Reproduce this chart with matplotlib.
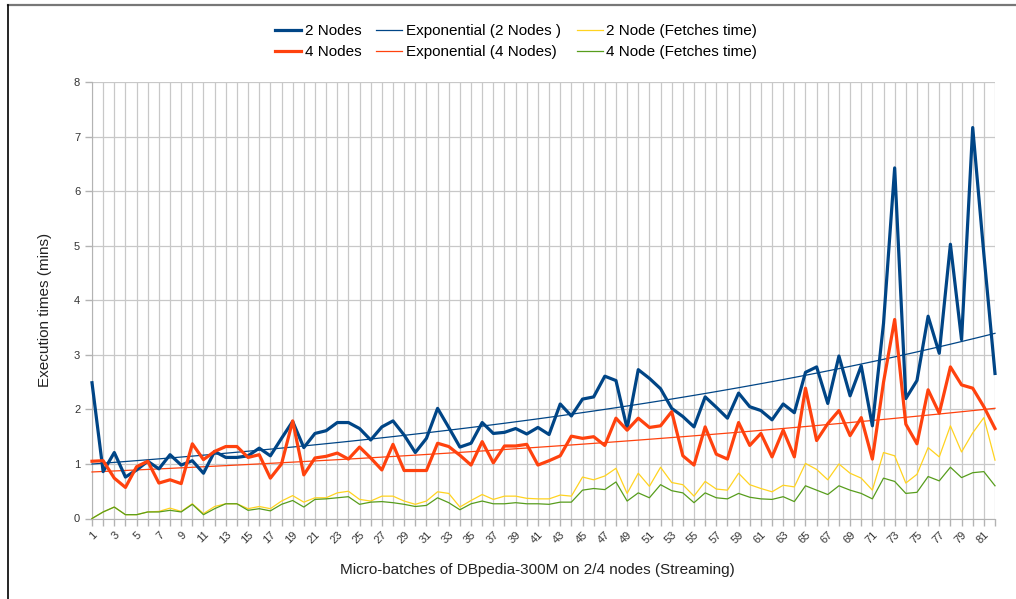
import matplotlib
matplotlib.use("Agg")
import matplotlib.pyplot as plt
from matplotlib.lines import Line2D
import numpy as np

plt.rcParams['font.family'] = ['Liberation Sans', 'DejaVu Sans']

batches = list(range(1, 83))

two_nodes = [2.49, 0.86, 1.21, 0.76, 0.89, 1.05, 0.91, 1.17, 0.98, 1.06,
             0.83, 1.23, 1.12, 1.12, 1.15, 1.29, 1.15, 1.47, 1.78, 1.30,
             1.56, 1.61, 1.76, 1.76, 1.65, 1.44, 1.68, 1.79, 1.53, 1.21,
             1.47, 2.02, 1.67, 1.31, 1.38, 1.76, 1.56, 1.58, 1.65, 1.55,
             1.67, 1.54, 2.10, 1.88, 2.19, 2.23, 2.61, 2.53, 1.65, 2.73,
             2.57, 2.38, 2.02, 1.87, 1.68, 2.23, 2.04, 1.84, 2.30, 2.05,
             1.98, 1.81, 2.10, 1.94, 2.68, 2.78, 2.11, 2.98, 2.25, 2.80,
             1.70, 3.58, 6.43, 2.20, 2.53, 3.71, 3.03, 5.03, 3.28, 7.17,
             4.85, 2.66]

four_nodes = [1.05, 1.06, 0.74, 0.57, 0.95, 1.05, 0.65, 0.71, 0.64, 1.37,
              1.08, 1.23, 1.32, 1.32, 1.12, 1.17, 0.74, 1.00, 1.79, 0.80,
              1.11, 1.14, 1.20, 1.09, 1.31, 1.11, 0.89, 1.36, 0.88, 0.88,
              0.88, 1.38, 1.32, 1.16, 0.98, 1.41, 1.02, 1.33, 1.33, 1.36,
              0.98, 1.06, 1.15, 1.51, 1.47, 1.50, 1.34, 1.84, 1.62, 1.84,
              1.67, 1.70, 1.96, 1.15, 0.98, 1.68, 1.18, 1.09, 1.76, 1.34,
              1.56, 1.13, 1.62, 1.13, 2.39, 1.43, 1.74, 1.98, 1.52, 1.85,
              1.09, 2.50, 3.65, 1.73, 1.37, 2.36, 1.93, 2.78, 2.45, 2.39,
              2.05, 1.65]

fetch_2 = [0.00, 0.12, 0.21, 0.07, 0.07, 0.12, 0.13, 0.19, 0.13, 0.27,
           0.09, 0.22, 0.27, 0.27, 0.18, 0.22, 0.18, 0.32, 0.42, 0.30,
           0.38, 0.38, 0.47, 0.50, 0.35, 0.32, 0.41, 0.41, 0.32, 0.26,
           0.32, 0.49, 0.46, 0.21, 0.33, 0.44, 0.35, 0.41, 0.41, 0.37,
           0.36, 0.36, 0.43, 0.41, 0.76, 0.71, 0.78, 0.92, 0.46, 0.83,
           0.59, 0.94, 0.66, 0.62, 0.41, 0.68, 0.54, 0.52, 0.83, 0.62,
           0.55, 0.49, 0.61, 0.58, 1.01, 0.90, 0.71, 1.00, 0.83, 0.74,
           0.52, 1.21, 1.15, 0.65, 0.81, 1.30, 1.13, 1.70, 1.22, 1.57,
           1.85, 1.07]

fetch_4 = [0.00, 0.12, 0.21, 0.07, 0.07, 0.12, 0.12, 0.15, 0.12, 0.26,
           0.07, 0.18, 0.27, 0.27, 0.15, 0.18, 0.14, 0.26, 0.33, 0.21,
           0.35, 0.36, 0.38, 0.40, 0.26, 0.30, 0.31, 0.29, 0.26, 0.22,
           0.24, 0.38, 0.29, 0.16, 0.27, 0.32, 0.27, 0.27, 0.29, 0.27,
           0.27, 0.26, 0.30, 0.30, 0.52, 0.55, 0.53, 0.67, 0.32, 0.47,
           0.38, 0.62, 0.51, 0.47, 0.29, 0.47, 0.38, 0.36, 0.46, 0.39,
           0.36, 0.35, 0.40, 0.31, 0.60, 0.52, 0.44, 0.60, 0.52, 0.46,
           0.36, 0.74, 0.68, 0.46, 0.48, 0.77, 0.69, 0.94, 0.75, 0.84,
           0.86, 0.60]

x = np.array(batches)

# exponential trend lines, fitted on log values like the spreadsheet does
def exp_trend(y):
    b, ln_a = np.polyfit(x, np.log(y), 1)
    return np.exp(ln_a + b * x)

trend_2 = exp_trend(two_nodes)
trend_4 = exp_trend(four_nodes)

fig = plt.figure(figsize=(10.16, 5.99), dpi=100)
ax = fig.add_axes([92/1016, 1 - 518.5/599, (995 - 92)/1016, (518.5 - 82.3)/599])

ax.plot(x, two_nodes, color='#004586', lw=2.3, label='2 Nodes', zorder=5, clip_on=False)
ax.plot(x, four_nodes, color='#ff420e', lw=2.3, label='4 Nodes', zorder=5, clip_on=False)
ax.plot(x, trend_2, color='#004586', lw=0.9, label='Exponential (2 Nodes )', zorder=4, clip_on=False)
ax.plot(x, trend_4, color='#ff420e', lw=0.9, label='Exponential (4 Nodes)', zorder=4, clip_on=False)
ax.plot(x, fetch_2, color='#ffd320', lw=0.9, label='2 Node (Fetches time)', zorder=3, clip_on=False)
ax.plot(x, fetch_4, color='#579d1c', lw=0.9, label='4 Node (Fetches time)', zorder=3, clip_on=False)

ax.set_xlim(1, 82)
ax.set_ylim(0, 8)
ax.set_yticks(range(0, 9))
ax.set_xticks(batches)
ax.set_xticklabels([str(b) if b % 2 == 1 else '' for b in batches],
                   rotation=45, ha='right', va='top', rotation_mode='anchor')
ax.tick_params(axis='both', colors='#b3b3b3', length=5, width=1, labelsize=8,
               labelcolor='#333333')
ax.tick_params(axis='x', pad=3)
ax.grid(True, color='#c8c8c8', lw=0.9)
ax.set_axisbelow(True)
for s in ['top', 'right']:
    ax.spines[s].set_visible(False)
for s in ['left', 'bottom']:
    ax.spines[s].set_color('#b3b3b3')

fig.text(45/1016, 1 - 310/599, 'Execution times (mins)', rotation=90,
         ha='center', va='center', fontsize=11, color='#222222')
fig.text(537/1016, 1 - 570/599, 'Micro-batches of DBpedia-300M on 2/4 nodes (Streaming)',
         ha='center', va='center', fontsize=11, color='#222222')

fig.legend(loc='center', bbox_to_anchor=(516/1016, 1 - 41.5/599), ncol=3,
           frameon=False, fontsize=11, handlelength=1.7, handletextpad=0.25,
           columnspacing=1.0, labelspacing=0.45)

# screenshot frame edges
fig.add_artist(Line2D([8/1016, 1], [1 - 4.5/599, 1 - 4.5/599], color='#777777', lw=1.6))
fig.add_artist(Line2D([8/1016, 8/1016], [0, 1 - 4.5/599], color='black', lw=1.2))

fig.savefig('out.png', dpi=100)
